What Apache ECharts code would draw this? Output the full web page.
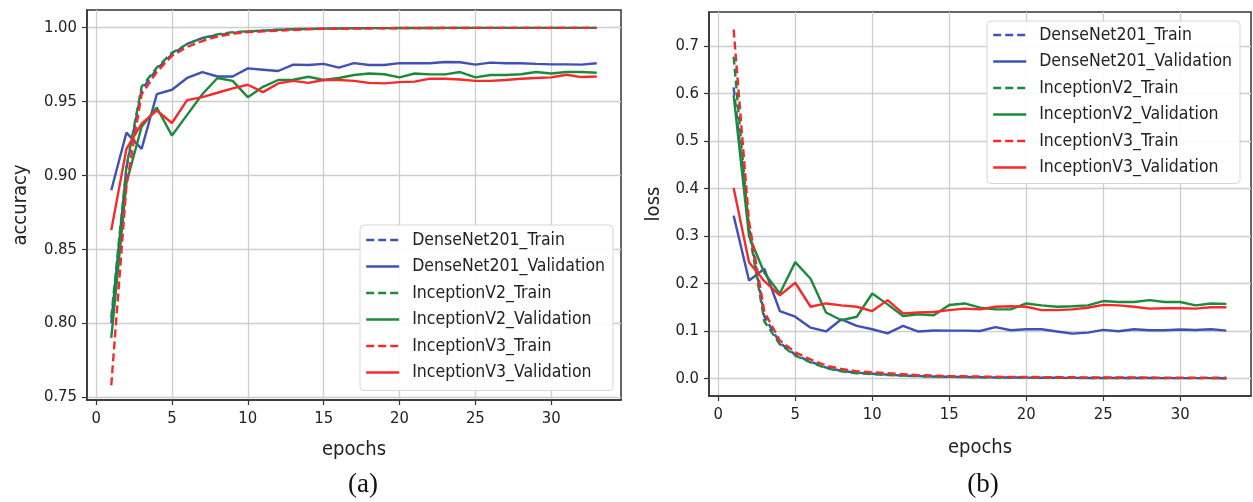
<!DOCTYPE html>
<html>
<head>
<meta charset="utf-8">
<script src="https://cdn.jsdelivr.net/npm/echarts@6/dist/echarts.min.js"></script>
<style>
  html, body { margin: 0; padding: 0; background: #fff; }
  #chart { width: 1253px; height: 502px; }
</style>
</head>
<body>
<div id="chart"></div>
<script>
// epochs 1..33
var epochs = [];
for (var i = 1; i <= 33; i++) epochs.push(i);

// (a) accuracy
var densenetAccTrain = [0.800, 0.905, 0.958, 0.972, 0.982, 0.989, 0.993, 0.995, 0.9965, 0.9975, 0.998, 0.9985, 0.999, 0.9992, 0.9994, 0.9995, 0.9996, 0.9997, 0.9997, 0.9998, 0.9998, 0.9998, 0.9999, 0.9999, 0.9999, 0.9999, 0.9999, 0.9999, 0.9999, 0.9999, 0.9999, 0.9999, 0.9999];
var densenetAccVal = [0.890, 0.929, 0.918, 0.955, 0.958, 0.966, 0.970, 0.967, 0.967, 0.9725, 0.9716, 0.9707, 0.975, 0.9748, 0.9755, 0.973, 0.976, 0.9748, 0.9748, 0.976, 0.976, 0.976, 0.9768, 0.9766, 0.975, 0.9764, 0.976, 0.976, 0.9755, 0.9752, 0.9752, 0.975, 0.976];
var v2AccTrain = [0.804, 0.906, 0.960, 0.973, 0.983, 0.989, 0.993, 0.9955, 0.997, 0.9976, 0.998, 0.9986, 0.999, 0.9992, 0.9994, 0.9995, 0.9996, 0.9997, 0.9997, 0.9998, 0.9998, 0.9998, 0.9999, 0.9999, 0.9999, 0.9999, 0.9999, 0.9999, 0.9999, 0.9999, 0.9999, 0.9999, 0.9999];
var v2AccVal = [0.790, 0.895, 0.933, 0.946, 0.927, 0.941, 0.955, 0.966, 0.964, 0.953, 0.960, 0.9646, 0.9648, 0.9668, 0.9646, 0.966, 0.968, 0.969, 0.9685, 0.9664, 0.969, 0.9684, 0.9684, 0.970, 0.9664, 0.968, 0.968, 0.9685, 0.970, 0.969, 0.970, 0.970, 0.9695];
var v3AccTrain = [0.758, 0.893, 0.955, 0.970, 0.981, 0.987, 0.991, 0.994, 0.996, 0.997, 0.9975, 0.998, 0.9985, 0.999, 0.9992, 0.9993, 0.9994, 0.9995, 0.9996, 0.9997, 0.9997, 0.9998, 0.9998, 0.9998, 0.9999, 0.9999, 0.9999, 0.9999, 0.9999, 0.9999, 0.9999, 0.9999, 0.9999];
var v3AccVal = [0.863, 0.918, 0.935, 0.944, 0.9355, 0.951, 0.953, 0.956, 0.959, 0.9614, 0.9564, 0.9623, 0.964, 0.9627, 0.9646, 0.9646, 0.964, 0.9627, 0.9623, 0.9632, 0.9635, 0.9655, 0.9655, 0.965, 0.964, 0.964, 0.9646, 0.9655, 0.966, 0.9664, 0.9682, 0.9666, 0.967];

// (b) loss
var densenetLossTrain = [0.613, 0.320, 0.130, 0.075, 0.050, 0.035, 0.023, 0.016, 0.012, 0.010, 0.008, 0.006, 0.005, 0.004, 0.0035, 0.003, 0.0025, 0.002, 0.002, 0.0018, 0.0015, 0.0013, 0.0012, 0.001, 0.001, 0.0009, 0.0008, 0.0008, 0.0007, 0.0007, 0.0006, 0.0006, 0.0005];
var densenetLossVal = [0.343, 0.2065, 0.231, 0.142, 0.130, 0.107, 0.099, 0.1246, 0.1106, 0.1036, 0.095, 0.1106, 0.0988, 0.101, 0.1008, 0.1008, 0.100, 0.108, 0.1015, 0.1036, 0.1036, 0.0988, 0.0945, 0.0966, 0.1022, 0.0994, 0.1036, 0.1015, 0.1015, 0.103, 0.1022, 0.1036, 0.1008];
var v2LossTrain = [0.678, 0.310, 0.120, 0.072, 0.048, 0.034, 0.022, 0.015, 0.011, 0.009, 0.007, 0.006, 0.005, 0.004, 0.0035, 0.003, 0.0025, 0.002, 0.002, 0.0018, 0.0015, 0.0013, 0.0012, 0.001, 0.001, 0.0009, 0.0008, 0.0008, 0.0007, 0.0007, 0.0006, 0.0006, 0.0005];
var v2LossVal = [0.597, 0.300, 0.222, 0.179, 0.245, 0.210, 0.139, 0.1225, 0.130, 0.179, 0.156, 0.1316, 0.135, 0.133, 0.1546, 0.158, 0.149, 0.1456, 0.1456, 0.158, 0.154, 0.151, 0.152, 0.154, 0.163, 0.161, 0.161, 0.165, 0.161, 0.161, 0.154, 0.158, 0.157];
var v3LossTrain = [0.735, 0.330, 0.140, 0.080, 0.055, 0.040, 0.027, 0.020, 0.015, 0.013, 0.011, 0.009, 0.007, 0.006, 0.005, 0.0045, 0.004, 0.0035, 0.003, 0.003, 0.0028, 0.0025, 0.0024, 0.0022, 0.002, 0.002, 0.0019, 0.0018, 0.0018, 0.0017, 0.0016, 0.0016, 0.0015];
var v3LossVal = [0.401, 0.245, 0.205, 0.175, 0.2016, 0.151, 0.158, 0.154, 0.151, 0.142, 0.165, 0.137, 0.139, 0.140, 0.144, 0.147, 0.1456, 0.151, 0.152, 0.151, 0.144, 0.144, 0.1456, 0.149, 0.155, 0.154, 0.151, 0.147, 0.148, 0.148, 0.147, 0.150, 0.150];

// tick labels
var xTicks = [0, 5, 10, 15, 20, 25, 30];
var accTicks = [0.75, 0.80, 0.85, 0.90, 0.95, 1.00];
var lossTicks = [0.0, 0.1, 0.2, 0.3, 0.4, 0.5, 0.6, 0.7];

var seriesNames = [
  "DenseNet201_Train",
  "DenseNet201_Validation",
  "InceptionV2_Train",
  "InceptionV2_Validation",
  "InceptionV3_Train",
  "InceptionV3_Validation",
];
var colors = ["#3f51b5", "#3f51b5", "#1b8a3a", "#1b8a3a", "#f52a2a", "#f52a2a"];

var FONT = "'DejaVu Sans Condensed', 'Liberation Sans', sans-serif";
var textColor = "#222";

function pairs(arr) {
  return arr.map(function (v, i) {
    return [epochs[i], v];
  });
}

function makeSeries(list, idx) {
  return list.map(function (arr, k) {
    return {
      name: seriesNames[k],
      type: "line",
      xAxisIndex: idx,
      yAxisIndex: idx,
      data: pairs(arr),
      symbol: "none",
      animation: false,
      lineStyle: {
        color: colors[k],
        width: 2.4,
        type: k % 2 === 0 ? [8, 4] : "solid",
      },
      itemStyle: { color: colors[k] },
    };
  });
}

function xAxis(idx, gap) {
  return {
    type: "value",
    gridIndex: idx,
    min: -0.6,
    max: 34.6,
    name: "epochs",
    nameLocation: "middle",
    nameGap: gap,
    nameTextStyle: { fontFamily: FONT, fontSize: 20, color: textColor },
    axisLine: { show: true, onZero: false, lineStyle: { color: "#333", width: 1.5 } },
    axisTick: { show: true, length: 5, customValues: xTicks, lineStyle: { color: "#333", width: 1.2 } },
    axisLabel: { customValues: xTicks, margin: 10, fontFamily: FONT, fontSize: 16.5, color: textColor },
    splitLine: { show: true, lineStyle: { color: "#cdcdcd", width: 1.3 } },
  };
}

function yAxis(idx, name, min, max, ticks, digits, gap) {
  return {
    type: "value",
    gridIndex: idx,
    min: min,
    max: max,
    name: name,
    nameLocation: "middle",
    nameGap: gap,
    nameTextStyle: { fontFamily: FONT, fontSize: 20, color: textColor },
    axisLine: { show: true, onZero: false, lineStyle: { color: "#333", width: 1.5 } },
    axisTick: { show: true, length: 5, customValues: ticks, lineStyle: { color: "#333", width: 1.2 } },
    axisLabel: {
      customValues: ticks,
      margin: 10,
      fontFamily: FONT,
      fontSize: 16.5,
      color: textColor,
      formatter: function (v) {
        return v.toFixed(digits);
      },
    },
    splitLine: { show: true, lineStyle: { color: "#cdcdcd", width: 1.3 } },
  };
}

function legend(left, top, pad) {
  return {
    orient: "vertical",
    left: left,
    top: top,
    data: seriesNames,
    itemWidth: 33,
    itemHeight: 14,
    itemGap: 6.5,
    padding: pad,
    backgroundColor: "rgba(255,255,255,0.9)",
    borderColor: "#d6d6d6",
    borderWidth: 1,
    borderRadius: 4,
    selectedMode: false,
    itemStyle: { opacity: 0 },
    lineStyle: { width: 2.4 },
    textStyle: {
      fontFamily: FONT,
      fontSize: 17.5,
      lineHeight: 20,
      color: textColor,
      padding: [0, 0, 0, 8],
    },
  };
}

var chart = echarts.init(document.getElementById("chart"));
chart.setOption({
  backgroundColor: "#fff",
  animation: false,
  title: [
    { text: "(a)", left: 358, top: 466, textAlign: "center",
      textStyle: { fontFamily: "'Liberation Serif', serif", fontSize: 27, fontWeight: "normal", color: "#111" } },
    { text: "(b)", left: 978, top: 466, textAlign: "center",
      textStyle: { fontFamily: "'Liberation Serif', serif", fontSize: 27, fontWeight: "normal", color: "#111" } },
  ],
  grid: [
    { left: 87, top: 10, width: 534, height: 390, show: true, borderColor: "#333", borderWidth: 1.5, backgroundColor: "transparent" },
    { left: 709, top: 12, width: 542, height: 384, show: true, borderColor: "#333", borderWidth: 1.5, backgroundColor: "transparent" },
  ],
  legend: [legend(360, 225, [5, 8, 8, 5]), legend(987, 21, [4, 8, 6, 5])],
  xAxis: [xAxis(0, 40), xAxis(1, 42)],
  yAxis: [
    yAxis(0, "accuracy", 0.748, 1.012, accTicks, 2, 56),
    yAxis(1, "loss", -0.037, 0.772, lossTicks, 1, 45),
  ],
  series: makeSeries([densenetAccTrain, densenetAccVal, v2AccTrain, v2AccVal, v3AccTrain, v3AccVal], 0).concat(
    makeSeries([densenetLossTrain, densenetLossVal, v2LossTrain, v2LossVal, v3LossTrain, v3LossVal], 1)
  ),
});
</script>
</body>
</html>
